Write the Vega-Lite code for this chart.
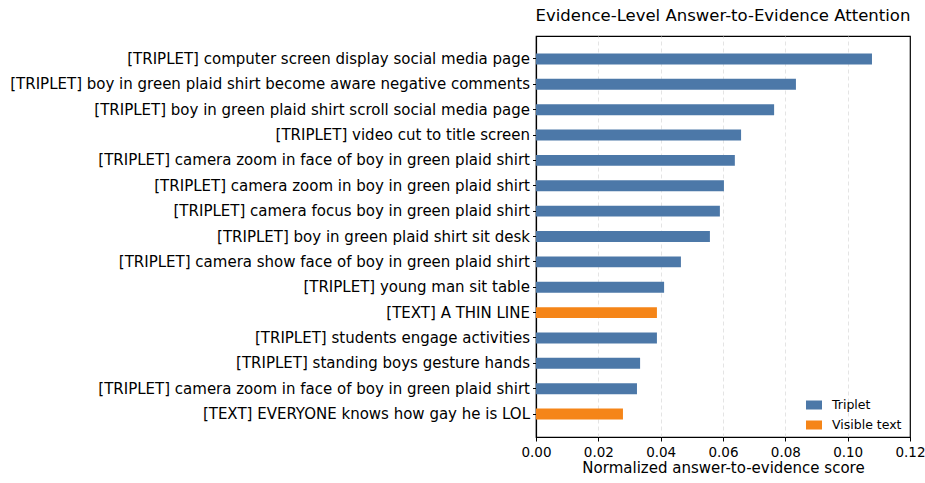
{
  "$schema": "https://vega.github.io/schema/vega-lite/v6.json",
  "autosize": "none",
  "width": 374,
  "height": 401,
  "padding": {"left": 536, "top": 36, "right": 15, "bottom": 46},
  "datasets": {
    "bars": [
      {"rank": 0, "label": "[TRIPLET] computer screen display social media page", "type": "Triplet", "score": 0.1078},
      {"rank": 1, "label": "[TRIPLET] boy in green plaid shirt become aware negative comments", "type": "Triplet", "score": 0.0834},
      {"rank": 2, "label": "[TRIPLET] boy in green plaid shirt scroll social media page", "type": "Triplet", "score": 0.0764},
      {"rank": 3, "label": "[TRIPLET] video cut to title screen", "type": "Triplet", "score": 0.0658},
      {"rank": 4, "label": "[TRIPLET] camera zoom in face of boy in green plaid shirt", "type": "Triplet", "score": 0.0638},
      {"rank": 5, "label": "[TRIPLET] camera zoom in boy in green plaid shirt", "type": "Triplet", "score": 0.0603},
      {"rank": 6, "label": "[TRIPLET] camera focus boy in green plaid shirt", "type": "Triplet", "score": 0.0590},
      {"rank": 7, "label": "[TRIPLET] boy in green plaid shirt sit desk", "type": "Triplet", "score": 0.0558},
      {"rank": 8, "label": "[TRIPLET] camera show face of boy in green plaid shirt", "type": "Triplet", "score": 0.0465},
      {"rank": 9, "label": "[TRIPLET] young man sit table", "type": "Triplet", "score": 0.0411},
      {"rank": 10, "label": "[TEXT] A THIN LINE", "type": "Visible text", "score": 0.0388},
      {"rank": 11, "label": "[TRIPLET] students engage activities", "type": "Triplet", "score": 0.0388},
      {"rank": 12, "label": "[TRIPLET] standing boys gesture hands", "type": "Triplet", "score": 0.0334},
      {"rank": 13, "label": "[TRIPLET] camera zoom in face of boy in green plaid shirt", "type": "Triplet", "score": 0.0324},
      {"rank": 14, "label": "[TEXT] EVERYONE knows how gay he is LOL", "type": "Visible text", "score": 0.0279}
    ]
  },
  "data": {"name": "bars"},
  "title": {
    "text": "Evidence-Level Answer-to-Evidence Attention",
    "font": "DejaVu Sans",
    "fontSize": 16.5,
    "fontWeight": "normal",
    "color": "black",
    "anchor": "middle",
    "offset": 12
  },
  "config": {
    "view": {"stroke": "black", "strokeWidth": 1.2},
    "font": "DejaVu Sans"
  },
  "mark": {"type": "bar"},
  "encoding": {
    "y": {
      "field": "rank",
      "type": "ordinal",
      "sort": "ascending",
      "scale": {"paddingInner": 0.57, "paddingOuter": 0.69},
      "axis": {
        "title": null,
        "labelExpr": "data('bars')[datum.value].label",
        "labelFont": "DejaVu Sans",
        "labelFontSize": 15,
        "labelColor": "black",
        "labelPadding": 3,
        "tickColor": "black",
        "tickSize": 3.5,
        "domain": true,
        "domainColor": "black",
        "domainWidth": 1.2,
        "labelLimit": 1000
      }
    },
    "x": {
      "field": "score",
      "type": "quantitative",
      "scale": {"domain": [0, 0.12], "nice": false, "zero": true},
      "axis": {
        "title": "Normalized answer-to-evidence score",
        "titleFont": "DejaVu Sans",
        "titleFontSize": 15,
        "titleFontWeight": "normal",
        "titleColor": "black",
        "titlePadding": 2,
        "values": [0, 0.02, 0.04, 0.06, 0.08, 0.1, 0.12],
        "format": ".2f",
        "labelFont": "DejaVu Sans",
        "labelFontSize": 13.5,
        "labelColor": "black",
        "labelPadding": 4,
        "labelFlush": false,
        "tickColor": "black",
        "tickSize": 4,
        "domain": true,
        "domainColor": "black",
        "domainWidth": 1.2,
        "grid": true,
        "gridColor": "#dddddd",
        "gridDash": [4, 3],
        "gridWidth": 0.8,
        "gridOpacity": {"condition": {"test": "datum.value <= 0 || datum.value >= 0.12", "value": 0}, "value": 1}
      }
    },
    "color": {
      "field": "type",
      "type": "nominal",
      "scale": {"domain": ["Triplet", "Visible text"], "range": ["#4c78a8", "#f58518"]},
      "legend": {
        "title": null,
        "orient": "none",
        "legendX": 270,
        "legendY": 361,
        "symbolType": "M-1,-0.5625L1,-0.5625L1,0.5625L-1,0.5625Z",
        "symbolSize": 256,
        "symbolStrokeWidth": 0,
        "labelFont": "DejaVu Sans",
        "labelFontSize": 12.5,
        "labelColor": "black",
        "labelOffset": 10,
        "rowPadding": 5
      }
    }
  }
}
